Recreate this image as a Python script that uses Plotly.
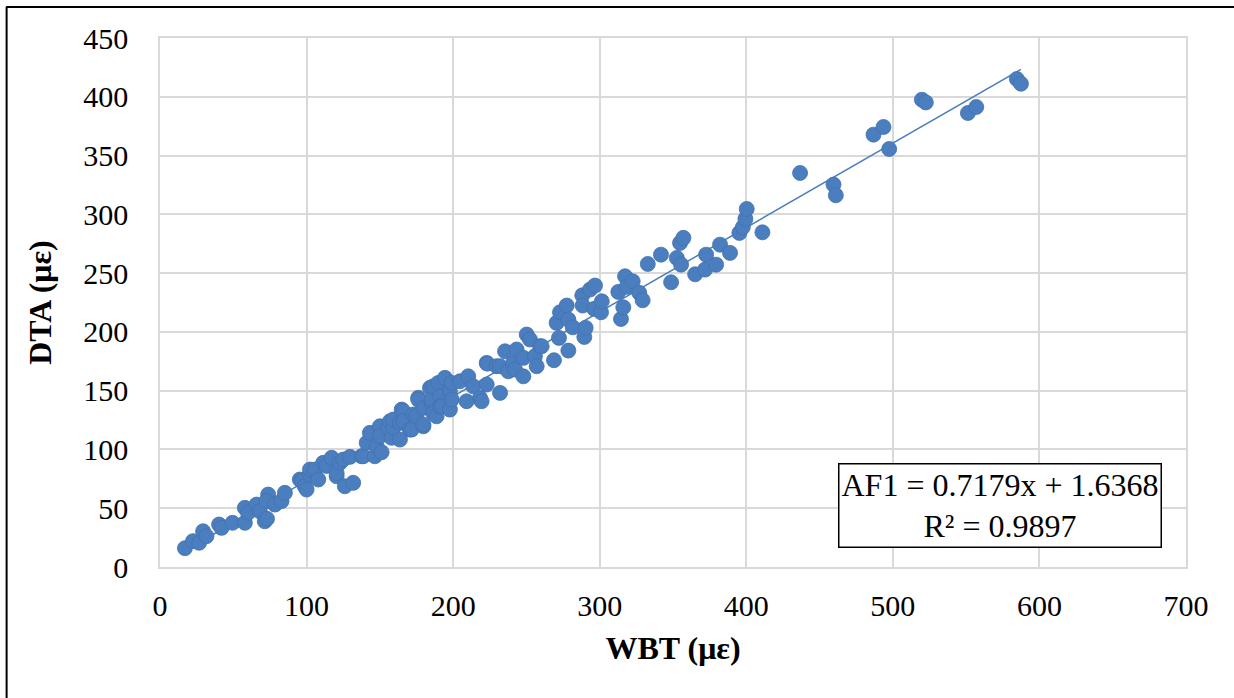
import plotly.graph_objects as go

# WBT (x) and DTA (y) strains
wbt = [17, 22.5, 26.7, 29.4, 31.7, 40.3, 42, 49.5, 57.9, 57.9, 60.1, 65.9, 68.1, 71.5, 73, 73.8, 72.7,
       78.4, 82.9, 85.2, 95.4, 96.6, 98.8, 100, 102.3, 102.3, 105.7, 108, 111.3, 113.6, 117.1, 120.5,
       120.5, 122.7, 125, 126.1, 129.6, 131.8, 137.5, 138.7, 141, 143.2, 146.6, 147.8, 150, 150, 151.2,
       155.7, 156.9, 158, 159.1, 159.1, 163.7, 163.7, 164.9, 166, 166, 170.5, 171.7, 172.8, 174.8, 176.2,
       176.2, 179.7, 179.7, 179.7, 184.2, 185.3, 185.3, 186.4, 186.4, 188.7, 189.9, 191.1, 191.1, 192.2,
       194.4, 197.8, 197.8, 199, 199, 204.6, 209.2, 210.3, 213.7, 218.3, 219.4, 222.9, 222.9, 223.3,
       229.7, 232, 232, 235.4, 237.6, 241, 242.2, 243.3, 247.9, 247.9, 250.2, 252.4, 255.8, 257, 259.3,
       260.4, 268.8, 270.6, 272.2, 272.9, 277.5, 278.6, 278.6, 281.6, 288.1, 288.4, 289.5, 290.4, 293.4,
       296.3, 296.8, 300.9, 301.4, 312.7, 314.5, 316.1, 317.3, 318.4, 322.5, 327, 329.3, 332.8, 341.8,
       348.7, 352.6, 354.8, 355.5, 357.1, 365.1, 371.9, 372.6, 379.4, 382.1, 388.9, 395.3, 397.6, 399.4,
       400.3, 411, 436.7, 459.5, 461.1, 486.8, 493.6, 497.5, 519.8, 522.5, 551.2, 556.9, 584.6, 587.4]
dta = [16, 22, 20.6, 30.4, 26.2, 36.1, 33.3, 37.6, 37.6, 50.3, 46.1, 53.1, 47.4, 38.9, 41, 61.6, 56,
       53.1, 56, 63.1, 74.4, 73, 68.7, 65.9, 78.7, 82.9, 82.9, 74.4, 88.6, 86, 92.9, 77.2,
       80, 88.6, 91.4, 68.7, 93.7, 71.6, 94.2, 94.2, 105.6, 114.1, 94.2, 102.7, 119.7, 111.2, 97.6,
       118.4, 124, 109.9, 118.4, 125.4, 108.4, 122.6, 133.9, 132.5, 124, 116.9, 116.9, 129.7, 128.2, 143.9,
       142.4, 119.7, 135.4, 121.2, 152.4, 139.6, 142.4, 153.7, 131.1, 128.2, 156.6, 145.2, 136.7, 136.7,
       160.9, 149.5, 133.9, 156.6, 142.4, 158, 141, 162.2, 153.7, 143.9, 141, 155.2, 173.6, 173,
       170.8, 148.1, 170.8, 183.5, 166.5, 173.6, 167.9, 185, 177.9, 162.2, 197.7, 193.5, 179.3, 170.8, 187.8,
       187.8, 175.9, 207.7, 194.9, 216.7, 222.4, 210.5, 184.1, 203.9, 231.1, 222.4, 195.7, 203.4, 236,
       219.6, 239.4, 216.7, 226, 234, 211, 220.9, 247.3, 238.3, 243, 233.2, 226.9, 257.8, 265.7,
       242.2, 262.9, 275.7, 257.2, 280, 249, 253, 265.7, 257.2, 274.2, 267.2, 284.2, 289, 296.1,
       304.6, 284.7, 335.2, 325.3, 316.2, 367.8, 374.3, 355.6, 397.5, 395.2, 386.2, 391.3, 415.1, 411.1]

slope = 0.7179
intercept = 1.6368
r2 = 0.9897

x_ticks = [0, 100, 200, 300, 400, 500, 600, 700]
y_ticks = [0, 50, 100, 150, 200, 250, 300, 350, 400, 450]

trend_x = [min(wbt), max(wbt)]
trend_y = [slope * v + intercept for v in trend_x]

font_family = "Liberation Serif"
blue = "#4A7EBE"

fig = go.Figure()
fig.add_trace(go.Scatter(
    x=trend_x, y=trend_y, mode="lines",
    line=dict(color="#4A7EBE", width=1.5), showlegend=False, hoverinfo="skip"))
fig.add_trace(go.Scatter(
    x=wbt, y=dta, mode="markers",
    marker=dict(size=15, color=blue, line=dict(color="#4271AE", width=0.8)),
    showlegend=False))

fig.update_layout(
    width=1234, height=698,
    margin=dict(l=160, r=48, t=38, b=130.5),
    paper_bgcolor="white", plot_bgcolor="white",
    font=dict(family=font_family, size=30, color="black"),
    xaxis=dict(
        range=[0, 700], tickvals=x_ticks, showgrid=True, gridcolor="#D9D9D9", gridwidth=1.5,
        zeroline=False, showline=True, mirror=True, linecolor="#D9D9D9", linewidth=1.5,
        ticks="", ticklabelstandoff=11, tickfont=dict(size=30),
        title=dict(text="<b>WBT (με)</b>", font=dict(size=32, family=font_family), standoff=16),
    ),
    yaxis=dict(
        range=[0, 450], tickvals=y_ticks, showgrid=True, gridcolor="#D9D9D9", gridwidth=1.5,
        zeroline=False, showline=True, mirror=True, linecolor="#D9D9D9", linewidth=1.5,
        ticks="", ticklabelstandoff=24, tickfont=dict(size=30),
        title=dict(text="<b>DTA (με)</b>", font=dict(size=32, family=font_family), standoff=22),
    ),
    annotations=[dict(
        xref="paper", yref="paper", x=(1000 - 160) / 1026, y=(567.5 - 506) / 529.5,
        showarrow=False, xanchor="center", yanchor="middle",
        text=f"AF1 = {slope}x + {intercept}<br>R² = {r2}",
        font=dict(size=32, family=font_family, color="black"),
        bordercolor="black", borderwidth=1.5, borderpad=2, bgcolor="white", align="center",
    )],
    shapes=[
        dict(type="line", xref="paper", yref="paper", x0=-0.15, x1=1.1, y0=1.0585, y1=1.0585,
             line=dict(color="black", width=2)),
        dict(type="line", xref="paper", yref="paper", x0=-0.1495, x1=-0.1495, y0=1.0585, y1=-0.3,
             line=dict(color="black", width=2)),
    ],
)

fig.write_html("out.html")
